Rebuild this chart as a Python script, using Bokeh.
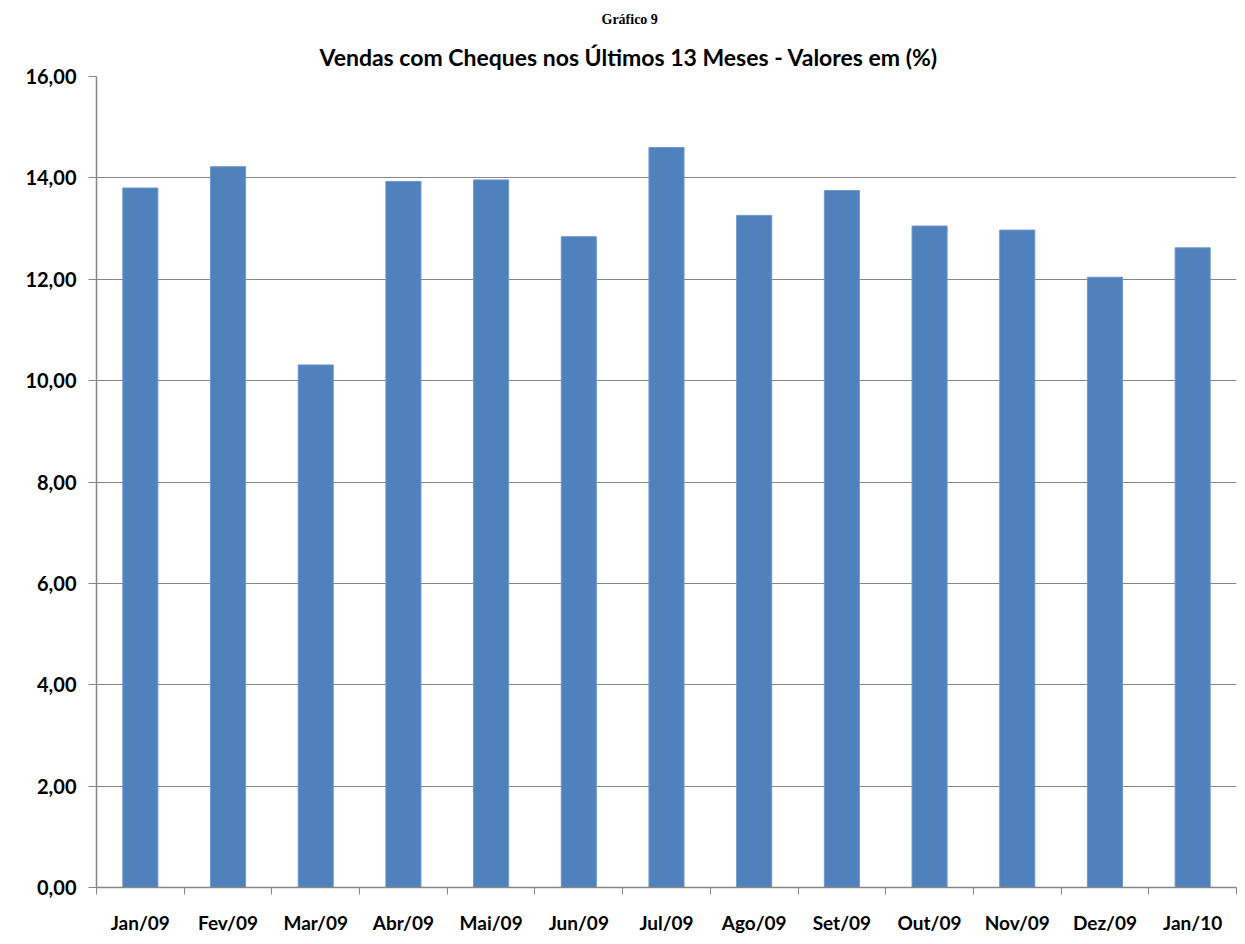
from bokeh.plotting import figure
from bokeh.models import FixedTicker, Range1d, Title
from bokeh.embed import file_html
from bokeh.resources import INLINE

months = ["Jan/09", "Fev/09", "Mar/09", "Abr/09", "Mai/09", "Jun/09", "Jul/09",
          "Ago/09", "Set/09", "Out/09", "Nov/09", "Dez/09", "Jan/10"]
values = [13.80, 14.22, 10.31, 13.93, 13.96, 12.84, 14.60,
          13.26, 13.75, 13.05, 12.97, 12.04, 12.62]
y_ticks = [0, 2, 4, 6, 8, 10, 12, 14, 16]
y_tick_labels = ["0,00", "2,00", "4,00", "6,00", "8,00", "10,00", "12,00", "14,00", "16,00"]
title_text = "Vendas com Cheques nos Últimos 13 Meses - Valores em (%)"
caption_text = "Gráfico 9"

FONT = "Lato"
W, H = 1245, 944

n = len(months)
centers = [i + 0.5 for i in range(n)]
bounds = list(range(n + 1))

p = figure(width=W, height=H, output_backend="svg", toolbar_location=None,
           x_range=Range1d(0, n), y_range=Range1d(0, 16),
           min_border_left=96, min_border_right=9, min_border_top=76, min_border_bottom=57)

p.vbar(x=centers, top=values, width=0.4, fill_color="#4F81BD", line_color="#6E98CB", line_width=1)

# outermost: document caption
p.title.text = caption_text
p.title.align = "left"
p.title.offset = 505
p.title.text_font = "Liberation Serif"
p.title.text_font_size = "14px"
p.title.text_font_style = "bold"
p.title.text_color = "#000000"
p.title.standoff = 17

# chart title, next to the plot area
main_title = Title(text=title_text, align="left", offset=223,
                   text_font=FONT, text_font_size="23px", text_font_style="bold",
                   text_color="#000000", standoff=11)
p.add_layout(main_title, "above")

p.outline_line_color = None
p.background_fill_color = "white"
p.border_fill_color = "white"

xa = p.xaxis[0]
xa.ticker = FixedTicker(ticks=centers, minor_ticks=bounds)
xa.major_label_overrides = {c: m for c, m in zip(centers, months)}
xa.major_tick_out = 0
xa.major_tick_in = 0
xa.minor_tick_out = 7
xa.minor_tick_in = 0
xa.minor_tick_line_color = "#868686"
xa.axis_line_color = "#868686"
xa.axis_line_width = 1.5
xa.major_label_standoff = 16
xa.major_label_text_font = FONT
xa.major_label_text_font_size = "19px"
xa.major_label_text_font_style = "bold"
xa.major_label_text_color = "#000000"

ya = p.yaxis[0]
ya.ticker = FixedTicker(ticks=y_ticks, minor_ticks=[])
ya.major_label_overrides = {t: l for t, l in zip(y_ticks, y_tick_labels)}
ya.major_tick_out = 8
ya.major_tick_in = 0
ya.major_tick_line_color = "#868686"
ya.axis_line_color = "#868686"
ya.axis_line_width = 1.5
ya.major_label_standoff = 12
ya.major_label_text_font = FONT
ya.major_label_text_font_size = "20px"
ya.major_label_text_font_style = "bold"
ya.major_label_text_color = "#000000"

p.xgrid.grid_line_color = None
p.ygrid.ticker = FixedTicker(ticks=y_ticks[1:])
p.ygrid.grid_line_color = "#868686"
p.ygrid.grid_line_width = 1

open("out.html", "w").write(file_html(p, INLINE))
